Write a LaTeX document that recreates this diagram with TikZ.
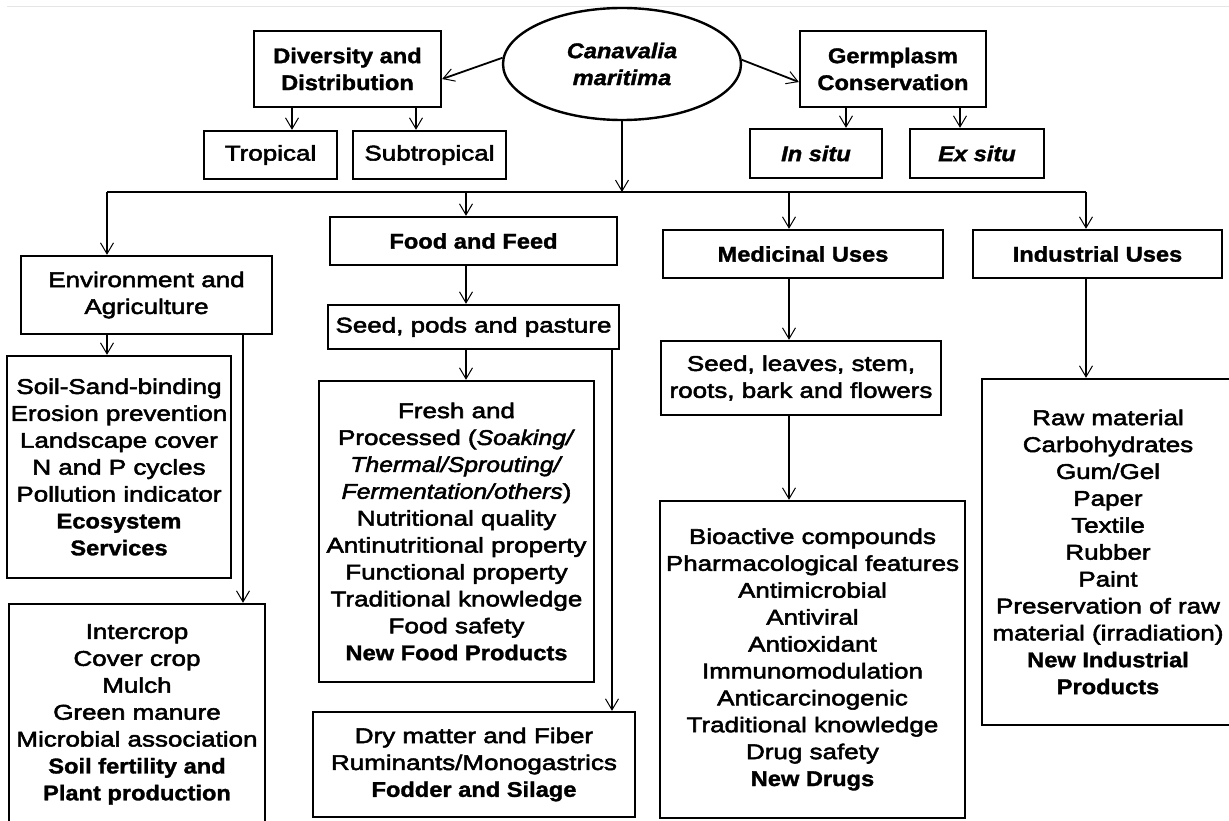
\documentclass[tikz,border=0pt]{standalone}
\usepackage{fontspec}
\setmainfont{Liberation Sans}[
  UprightFeatures={FakeStretch=1.22, FakeBold=2.5},
  BoldFeatures={FakeStretch=1.11, FakeBold=1.5},
  ItalicFeatures={FakeStretch=1.16, FakeBold=2.5},
  BoldItalicFeatures={FakeStretch=1.11, FakeBold=1.5}]
\usetikzlibrary{shapes.geometric, arrows.meta}
\newcommand{\boxfont}{\fontsize{21.3}{26.9}\selectfont}
\tikzset{
    box/.style={draw, line width=2.4pt, inner sep=0pt, align=center, font=\boxfont},
    hdr/.style={box, font=\boxfont\bfseries},
    sz/.style 2 args={minimum width=#1pt, minimum height=#2pt},
    conn/.style={line width=1.8pt},
    arr/.style={-{Straight Barb[length=11pt, width=13pt, line width=1pt]}}
}

\begin{document}
\begin{tikzpicture}[x=1pt, y=-1pt]

    \clip (0,0) rectangle (1229,821);
    \useasboundingbox (0,0) rectangle (1229,821);
    \path[draw, line width=1pt, black!10] (7,7) -- (1229,7);

    % top row
    \node[box, ellipse, sz={238}{112}, font=\boxfont\bfseries\itshape] (mainel) at (622,64) {Canavalia\\maritima};
    \node[hdr, sz={187}{76}] (divers) at (347.5,69) {Diversity and\\Distribution};
    \node[hdr, sz={186}{76}] (germ) at (893,69) {Germplasm\\Conservation};
    \node[box, sz={133}{48}] (tropic) at (270.5,155) {Tropical};
    \node[box, sz={153}{48}] (subtrop) at (429.5,155) {Subtropical};
    \node[box, sz={132}{49}, font=\boxfont\bfseries\itshape] (insitu) at (816,153.5) {In situ};
    \node[box, sz={134}{49}, font=\boxfont\bfseries\itshape] (exsitu) at (977,153.5) {Ex situ};

    % uses
    \node[box, sz={251}{78}] (envag) at (146.5,295) {Environment and\\Agriculture};
    \node[hdr, sz={287}{48}] (food) at (473.5,241) {Food and Feed};
    \node[hdr, sz={280}{48}] (medic) at (803,254) {Medicinal Uses};
    \node[hdr, sz={249}{48}] (indus) at (1097.5,254) {Industrial Uses};

    \node[box, sz={291}{44}] (seedpod) at (473.5,327) {Seed, pods and pasture};
    \node[box, sz={280}{74}] (seedleaf) at (801,378) {Seed, leaves, stem,\\roots, bark and flowers};

    % lists
    \node[box, sz={224}{222}] (soil) at (119,467) {Soil-Sand-binding\\Erosion prevention\\Landscape cover\\N and P cycles\\Pollution indicator\\\textbf{Ecosystem}\\\textbf{Services}};
    \node[box, sz={256}{221}] (intercrop) at (137,714.5) {Intercrop\\Cover crop\\Mulch\\Green manure\\Microbial association\\\textbf{Soil fertility and}\\\textbf{Plant production}};
    \node[box, sz={275}{301}] (fresh) at (456.5,531.5) {Fresh and\\Processed (\textit{Soaking/}\\\textit{Thermal/Sprouting/}\\\textit{Fermentation/others})\\Nutritional quality\\Antinutritional property\\Functional property\\Traditional knowledge\\Food safety\\\textbf{New Food Products}};
    \node[box, sz={322}{105}] (dry) at (474,764.5) {Dry matter and Fiber\\Ruminants/Monogastrics\\\textbf{Fodder and Silage}};
    \node[box, sz={305}{317}] (bioact) at (812.5,659.5) {Bioactive compounds\\Pharmacological features\\Antimicrobial\\Antiviral\\Antioxidant\\Immunomodulation\\Anticarcinogenic\\Traditional knowledge\\Drug safety\\\textbf{New Drugs}};
    \node[box, sz={252}{346}] (rawmat) at (1108,552) {Raw material\\Carbohydrates\\Gum/Gel\\Paper\\Textile\\Rubber\\Paint\\Preservation of raw\\material (irradiation)\\\textbf{New Industrial}\\\textbf{Products}};

    % connectors
    \coordinate (busA) at (107,192);
    \coordinate (busB) at (466,192);
    \coordinate (busC) at (789,192);
    \coordinate (busD) at (1086,192);
    \foreach \n/\x in {ctrop/292, csub/416, cin/846, cex/960, cenv/243, cdry/612}
        \coordinate (\n) at (\x,0);

    \path[draw, conn, arr] (mainel.177) -- ([yshift=-10pt]divers.east);
    \path[draw, conn, arr] (mainel.2) -- ([yshift=-13pt]germ.west);
    \path[draw, conn, arr] (mainel.south) -- (mainel.south |- busA);
    \path[draw, conn] (busA) -- (busD);

    \foreach \c/\a/\b in {ctrop/divers/tropic, csub/divers/subtrop, cin/germ/insitu, cex/germ/exsitu}
        \path[draw, conn, arr] (\a.south -| \c) -- (\b.north -| \c);
    \foreach \b/\n in {A/envag, B/food, C/medic, D/indus}
        \path[draw, conn, arr] (bus\b) -- (bus\b |- \n.north);

    \path[draw, conn, arr] (envag.south -| busA) -- (soil.north -| busA);
    \path[draw, conn, arr] (envag.south -| cenv) -- (intercrop.north -| cenv);
    \path[draw, conn, arr] (food.south -| busB) -- (seedpod.north -| busB);
    \path[draw, conn, arr] (seedpod.south -| busB) -- (fresh.north -| busB);
    \path[draw, conn, arr] (seedpod.south -| cdry) -- (dry.north -| cdry);
    \path[draw, conn, arr] (medic.south -| busC) -- (seedleaf.north -| busC);
    \path[draw, conn, arr] (seedleaf.south -| busC) -- (bioact.north -| busC);
    \path[draw, conn, arr] (indus.south -| busD) -- (rawmat.north -| busD);

\end{tikzpicture}
\end{document}
